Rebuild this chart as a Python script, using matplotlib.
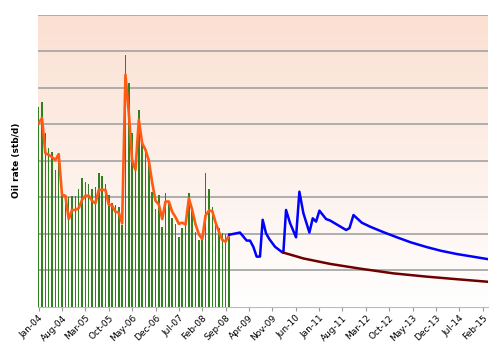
import numpy as np
import matplotlib.pyplot as plt

# monthly history, month index 0 = Jan-04
bar_rate = [5.46, 5.62, 4.77, 4.35, 4.25, 3.75, 3.95, 3.1, 3.05, 3.0,
            3.02, 3.02, 3.23, 3.53, 3.42, 3.35, 3.22, 3.27, 3.66, 3.57,
            3.37, 3.05, 2.83, 2.79, 2.74, 2.24, 6.91, 6.12, 4.75, 3.8,
            5.4, 4.5, 4.35, 4.02, 3.15, 2.67, 3.05, 2.19, 3.12, 2.88,
            2.42, 2.26, 1.91, 2.15, 2.32, 3.11, 2.65, 2.05, 1.83, 1.85,
            3.66, 3.22, 2.74, 2.4, 2.15, 2.02, 2.0, 2.02]
hist_rate = [5.03, 5.17, 4.21, 4.16, 4.1, 4.02, 4.18, 3.06, 3.04, 2.4,
             2.65, 2.65, 2.7, 2.93, 3.04, 3.04, 2.9, 2.83, 3.2, 3.2,
             3.2, 2.79, 2.77, 2.6, 2.58, 2.28, 6.36, 5.31, 4.0, 3.75,
             5.12, 4.48, 4.3, 4.0, 3.4, 2.9, 2.8, 2.4, 2.88, 2.88,
             2.6, 2.45, 2.27, 2.3, 2.25, 2.97, 2.65, 2.25, 1.98, 1.85,
             2.5, 2.63, 2.62, 2.3, 2.05, 1.83, 1.78, 1.95]

# forecast with infill wells (blue) and base decline (brown)
fc_month = [57.1, 60.3, 62.3, 63.3, 64.3, 65.3, 66.3, 67.1, 68.1, 69.1,
            70.8, 72.8, 73.3, 74.1, 75.3, 77.1, 78.1, 79.3, 81.1, 82.1,
            83.1, 84.1, 86.1, 87.3, 92.1, 93.1, 94.3, 96.8, 99.3, 103.3,
            107.3, 111.5, 116.3, 120.5, 125.3, 130.0, 134.6]
fc_rate = [1.97, 2.03, 1.81, 1.81, 1.64, 1.37, 1.37, 2.38, 2.01, 1.85,
           1.64, 1.5, 1.48, 2.65, 2.29, 1.9, 3.15, 2.56, 2.03, 2.42,
           2.33, 2.63, 2.4, 2.36, 2.1, 2.15, 2.51, 2.3, 2.19, 2.04,
           1.9, 1.76, 1.63, 1.53, 1.44, 1.37, 1.3]
base_month = [73.3, 79.3, 87.3, 96.3, 106.3, 116.3, 125.3, 134.6]
base_rate = [1.48, 1.32, 1.17, 1.04, 0.91, 0.82, 0.75, 0.68]

tick_labels = ['Jan-04', 'Aug-04', 'Mar-05', 'Oct-05', 'May-06', 'Dec-06',
               'Jul-07', 'Feb-08', 'Sep-08', 'Apr-09', 'Nov-09', 'Jun-10',
               'Jan-11', 'Aug-11', 'Mar-12', 'Oct-12', 'May-13', 'Dec-13',
               'Jul-14', 'Feb-15']

fig = plt.figure(figsize=(5, 3.54), dpi=100)
ax = fig.add_axes([0.076, 0.134, 0.9, 0.824])
xmin, xmax, ymax = -0.2, 134.6, 8

# background gradient, salmon at top fading to white
grad = np.linspace(0, 1, 256).reshape(-1, 1)
top = np.array([251, 224, 210]) / 255
bot = np.array([255, 255, 255]) / 255
img = top * (1 - grad[..., None]) + bot * grad[..., None]
img = img.reshape(256, 1, 3)
ax.imshow(img, extent=[xmin, xmax, 0, ymax], aspect='auto', zorder=0)

for yv in range(1, 9):
    ax.axhline(yv, color='#a8a8a8', lw=1.3, zorder=1)

months = np.arange(len(bar_rate))
ax.bar(months, bar_rate, width=0.45, color='#2f8020', linewidth=0, zorder=2)
ax.plot(months, hist_rate, color='#ff5a14', lw=1.9, zorder=3)
ax.plot(fc_month, fc_rate, color='#0000ff', lw=1.8, zorder=3)
ax.plot(base_month, base_rate, color='#6e0000', lw=1.8, zorder=3)

ax.set_xlim(xmin, xmax)
ax.set_ylim(0, ymax)
ax.set_xticks(np.arange(len(tick_labels)) * 7)
ax.set_xticklabels(tick_labels, rotation=45, ha='right',
                   rotation_mode='anchor', fontsize=6.5)
ax.set_yticks([])
ax.tick_params(axis='x', length=3, color='#999999', pad=2)
for s in ['top', 'right', 'left']:
    ax.spines[s].set_visible(False)
ax.spines['bottom'].set_color('#bbbbbb')
ax.set_ylabel('Oil rate (stb/d)', fontsize=6.5, fontweight='bold', labelpad=12)

fig.savefig('out.png', dpi=100)
